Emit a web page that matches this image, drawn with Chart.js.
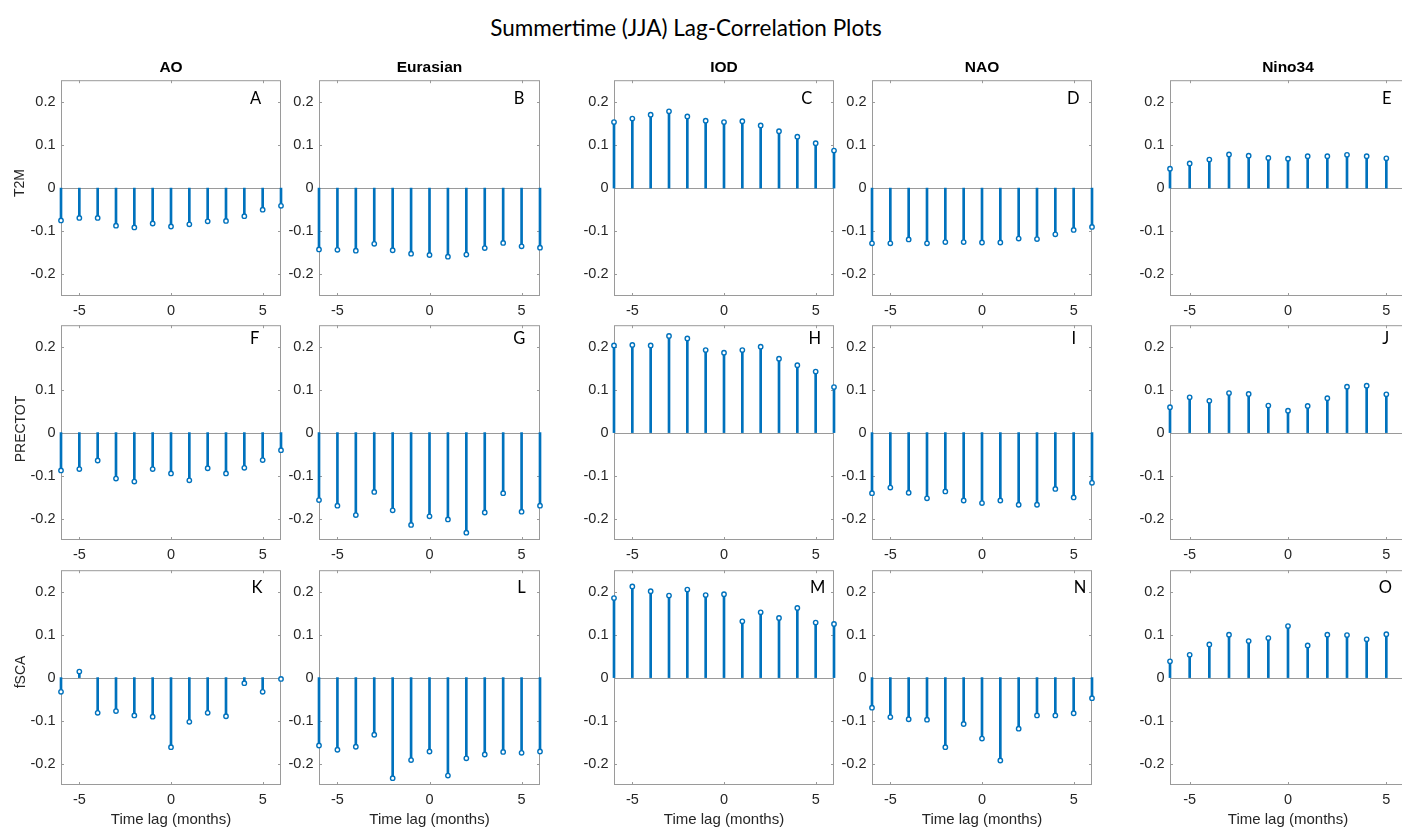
<!DOCTYPE html>
<html>
<head>
<meta charset="utf-8">
<title>Summertime (JJA) Lag-Correlation Plots</title>
<script src="https://cdn.jsdelivr.net/npm/chart.js@4.4.1/dist/chart.umd.min.js"></script>
<style>
  html, body { margin: 0; padding: 0; background: #fff; }
  body { width: 1402px; height: 827px; overflow: hidden; position: relative; }
  canvas { position: absolute; }
  .txt { position: absolute; white-space: nowrap; line-height: 1; transform: translate(-50%, -50%); }
  #title { font-family: Lato, 'Open Sans', sans-serif; font-size: 22.5px; color: #000; }
  .colhead { font-family: 'Liberation Sans', Arial, sans-serif; font-weight: bold; font-size: 15.5px; color: #000; }
  .rowhead { font-family: 'Liberation Sans', Arial, sans-serif; font-size: 14px; color: #262626; transform: translate(-50%, -50%) rotate(-90deg); }
  .letter { font-family: Lato, 'Open Sans', sans-serif; font-size: 16.5px; color: #000; }
</style>
</head>
<body>
<div id="title" class="txt" style="left:686px; top:28px;">Summertime (JJA) Lag-Correlation Plots</div>
<script>
// ---- data -------------------------------------------------------------
const lags = [-6, -5, -4, -3, -2, -1, 0, 1, 2, 3, 4, 5, 6];
const climateIndices = ['AO', 'Eurasian', 'IOD', 'NAO', 'Nino34'];
const variables = ['T2M', 'PRECTOT', 'fSCA'];
const panelLetters = ['A', 'B', 'C', 'D', 'E', 'F', 'G', 'H', 'I', 'J', 'K', 'L', 'M', 'N', 'O'];
const yTickValues = [-0.2, -0.1, 0, 0.1, 0.2];
const xTickValues = [-5, 0, 5];
const xAxisTitle = 'Time lag (months)';

// T2M correlations, lag -6 .. 6 (Nino34 runs -6 .. 5)
const t2mAO       = [-0.075, -0.069, -0.069, -0.087, -0.091, -0.082, -0.089, -0.084, -0.077, -0.076, -0.065, -0.050, -0.041];
const t2mEurasian = [-0.142, -0.143, -0.145, -0.129, -0.144, -0.152, -0.155, -0.159, -0.154, -0.139, -0.127, -0.135, -0.138];
const t2mIOD      = [0.153, 0.161, 0.170, 0.178, 0.166, 0.156, 0.153, 0.155, 0.145, 0.132, 0.119, 0.104, 0.087];
const t2mNAO      = [-0.128, -0.128, -0.119, -0.128, -0.125, -0.125, -0.126, -0.126, -0.117, -0.118, -0.107, -0.097, -0.090];
const t2mNino34   = [0.045, 0.057, 0.066, 0.078, 0.075, 0.070, 0.068, 0.074, 0.074, 0.077, 0.074, 0.069];

// PRECTOT correlations
const prectotAO       = [-0.088, -0.085, -0.065, -0.107, -0.114, -0.085, -0.095, -0.111, -0.083, -0.095, -0.082, -0.064, -0.041];
const prectotEurasian = [-0.157, -0.170, -0.192, -0.138, -0.181, -0.215, -0.195, -0.202, -0.233, -0.186, -0.141, -0.184, -0.170];
const prectotIOD      = [0.203, 0.204, 0.203, 0.225, 0.219, 0.192, 0.186, 0.192, 0.200, 0.172, 0.157, 0.142, 0.106];
const prectotNAO      = [-0.141, -0.128, -0.140, -0.153, -0.137, -0.158, -0.164, -0.158, -0.168, -0.168, -0.131, -0.151, -0.117];
const prectotNino34   = [0.059, 0.082, 0.074, 0.092, 0.090, 0.063, 0.051, 0.062, 0.080, 0.107, 0.109, 0.089];

// fSCA correlations
const fscaAO       = [-0.033, 0.014, -0.082, -0.078, -0.088, -0.091, -0.162, -0.103, -0.082, -0.090, -0.013, -0.033, -0.003];
const fscaEurasian = [-0.158, -0.168, -0.161, -0.133, -0.234, -0.192, -0.172, -0.228, -0.188, -0.179, -0.173, -0.175, -0.172];
const fscaIOD      = [0.185, 0.212, 0.201, 0.191, 0.205, 0.192, 0.194, 0.131, 0.152, 0.139, 0.162, 0.128, 0.125];
const fscaNAO      = [-0.070, -0.092, -0.097, -0.098, -0.162, -0.108, -0.142, -0.193, -0.119, -0.088, -0.088, -0.083, -0.048];
const fscaNino34   = [0.038, 0.053, 0.077, 0.100, 0.085, 0.092, 0.120, 0.075, 0.100, 0.099, 0.089, 0.101];

const seriesGrid = [
  [t2mAO, t2mEurasian, t2mIOD, t2mNAO, t2mNino34],
  [prectotAO, prectotEurasian, prectotIOD, prectotNAO, prectotNino34],
  [fscaAO, fscaEurasian, fscaIOD, fscaNAO, fscaNino34]
];

// ---- layout -----------------------------------------------------------
const plotCols = [[61, 281], [319, 540], [614, 834], [872, 1092], [1170, 1406]];
const plotRows = [[78, 296], [323, 540], [568, 785]];
const headY = 67;
const rowLabelPos = [[19, 183], [20, 429], [20, 672]];
const letterPos = [
  [255.7, 98.3], [519.2, 98.3], [806.7, 98.3], [1073.3, 98.3], [1386.7, 98],
  [254.7, 338.3], [519.3, 338.3], [814.7, 338.3], [1073.7, 338.3], [1385.7, 338.3],
  [257, 586.7], [521.5, 586.7], [817.7, 586.7], [1080, 586.7], [1385.3, 586.7]
];

const Y_AXIS_W = 48, PAD_TOP = 12, PAD_RIGHT = 6;
const STEM = '#0072BD', AXIS = '#9a9a9a', TEXT = '#262626';

Chart.defaults.font.family = "'Liberation Sans', Arial, Helvetica, sans-serif";

// Box, inward tick marks and the stem baseline, drawn under the stems
const matlabFrame = {
  id: 'matlabFrame',
  beforeDatasetsDraw(chart) {
    const { ctx, chartArea: a, scales: { x, y } } = chart;
    const tl = 3;
    ctx.save();
    ctx.strokeStyle = AXIS;
    ctx.lineWidth = 1;
    ctx.strokeRect(a.left + 0.5, a.top + 0.5, a.right - a.left - 1, a.bottom - a.top - 1);
    ctx.beginPath();
    xTickValues.forEach(v => {
      const px = Math.round(x.getPixelForValue(v)) + 0.5;
      ctx.moveTo(px, a.bottom); ctx.lineTo(px, a.bottom - tl);
      ctx.moveTo(px, a.top); ctx.lineTo(px, a.top + tl);
    });
    yTickValues.forEach(v => {
      const py = Math.round(y.getPixelForValue(v)) + 0.5;
      ctx.moveTo(a.left, py); ctx.lineTo(a.left + tl, py);
      ctx.moveTo(a.right, py); ctx.lineTo(a.right - tl, py);
    });
    const y0 = Math.round(y.getPixelForValue(0)) + 0.5;
    ctx.moveTo(a.left, y0); ctx.lineTo(a.right, y0);
    ctx.stroke();
    ctx.restore();
  }
};

function addText(cls, text, x, y) {
  const d = document.createElement('div');
  d.className = 'txt ' + cls;
  d.textContent = text;
  d.style.left = x + 'px';
  d.style.top = y + 'px';
  document.body.appendChild(d);
}

function makePanel(r, c) {
  const values = seriesGrid[r][c];
  const pts = values.map((v, i) => ({ x: lags[i], y: v }));
  const [pl, pr] = plotCols[c];
  const [pt, pb] = plotRows[r];
  const isBottom = r === plotRows.length - 1;
  const xAxisH = isBottom ? 44 : 30;

  const canvas = document.createElement('canvas');
  canvas.width = Y_AXIS_W + (pr - pl) + PAD_RIGHT;
  canvas.height = PAD_TOP + (pb - pt) + xAxisH;
  canvas.style.left = (pl - Y_AXIS_W) + 'px';
  canvas.style.top = (pt - PAD_TOP) + 'px';
  document.body.appendChild(canvas);

  new Chart(canvas, {
    type: 'bar',
    data: {
      datasets: [
        {
          type: 'scatter', data: pts, order: 0, clip: false,
          pointRadius: 2.2, pointBorderWidth: 1.4,
          borderColor: STEM, pointBorderColor: STEM,
          backgroundColor: '#fff', pointBackgroundColor: '#fff'
        },
        {
          type: 'bar', data: pts, order: 1, clip: false,
          backgroundColor: STEM, borderWidth: 0, barThickness: 2, grouped: false
        }
      ]
    },
    options: {
      responsive: false,
      animation: false,
      events: [],
      layout: { padding: { top: PAD_TOP, right: PAD_RIGHT, left: 0, bottom: 0 } },
      plugins: { legend: { display: false }, tooltip: { enabled: false } },
      scales: {
        x: {
          type: 'linear', min: -6, max: 6, offset: false,
          grid: { display: false, drawTicks: false, offset: false },
          border: { display: false },
          afterBuildTicks: s => { s.ticks = xTickValues.map(v => ({ value: v })); },
          afterFit: s => { s.height = xAxisH; },
          ticks: { padding: 6, color: TEXT, font: { size: 14.5 }, maxRotation: 0, autoSkip: false, callback: v => String(v) },
          title: { display: isBottom, text: xAxisTitle, color: TEXT, font: { size: 15 }, padding: 0 }
        },
        y: {
          type: 'linear', min: -0.25, max: 0.25,
          grid: { display: false, drawTicks: false },
          border: { display: false },
          afterBuildTicks: s => { s.ticks = yTickValues.map(v => ({ value: v })); },
          afterFit: s => { s.width = Y_AXIS_W; },
          ticks: { padding: 5.5, color: TEXT, font: { size: 14.5 }, autoSkip: false, callback: v => String(v) }
        }
      }
    },
    plugins: [matlabFrame]
  });
}

for (let r = 0; r < variables.length; r++) {
  for (let c = 0; c < climateIndices.length; c++) {
    makePanel(r, c);
  }
}

// column headings centred on lag 0 of each panel
climateIndices.forEach((name, c) => {
  const [pl, pr] = plotCols[c];
  addText('colhead', name, (pl + pr) / 2, headY);
});

variables.forEach((name, r) => addText('rowhead', name, rowLabelPos[r][0], rowLabelPos[r][1]));

panelLetters.forEach((l, i) => addText('letter', l, letterPos[i][0], letterPos[i][1]));
</script>
</body>
</html>
